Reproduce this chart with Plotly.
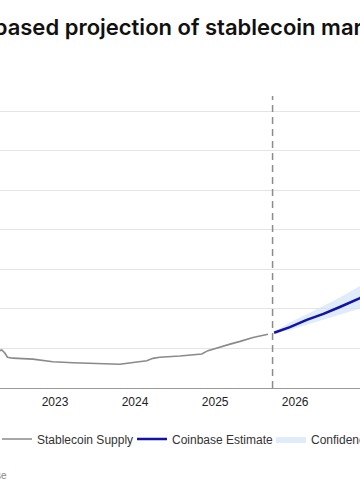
import plotly.graph_objects as go

# ---- data (values in $B) ----
supply_dates = ["2022-04-01", "2022-04-25", "2022-05-03", "2022-05-17", "2022-05-29", "2022-06-22",
                "2022-09-22", "2022-12-22", "2023-03-24", "2023-07-25", "2023-10-24", "2024-01-10",
                "2024-02-24", "2024-03-23", "2024-04-23", "2024-07-24", "2024-11-01", "2024-11-29",
                "2025-01-23", "2025-03-10", "2025-04-25", "2025-06-23", "2025-08-30"]
supply_values = [190, 189, 193, 177, 156, 151,
                 146, 133, 128, 122, 120, 132,
                 138, 150, 156, 162, 172, 189,
                 209, 222, 236, 256, 272]

est_dates = ["2025-09-27", "2025-12-08", "2026-02-23", "2026-05-10", "2026-07-24", "2026-10-24", "2026-12-01"]
est_values = [280, 308, 345, 375, 410, 455, 480]
ci_lower = [277, 294, 320, 345, 368, 402, 420]
ci_upper = [283, 333, 373, 415, 458, 516, 548]

year_ticks = ["2023-01-01", "2024-01-01", "2025-01-01", "2026-01-01", "2027-01-01", "2028-01-01"]
year_labels = ["2023", "2024", "2025", "2026", "2027", "2028"]
y_ticks = [0, 200, 400, 600, 800, 1000, 1200, 1400]

projection_start = "2025-09-20"
title_text = "Coinbase's model-based projection of stablecoin market cap"
source_text = "Source: Coinbase"

W, H = 360, 484
ML, MR, MT, MB = 0, 0, 96, 96
plot_h = H - MT - MB

def px_x(p):
    return p / (W - ML - MR)

def px_y(p):
    return (H - MB - p) / plot_h

fig = go.Figure()

fig.add_trace(go.Scatter(
    x=supply_dates, y=supply_values, mode="lines", name="Stablecoin Supply",
    line=dict(color="#8a8a8a", width=1.6), legend="legend", showlegend=True))

fig.add_trace(go.Scatter(
    x=est_dates, y=ci_lower, mode="lines", line=dict(width=0, color="rgba(0,0,0,0)"),
    showlegend=False, hoverinfo="skip", legend="legend3"))
fig.add_trace(go.Scatter(
    x=est_dates, y=ci_upper, mode="lines", line=dict(width=0, color="rgba(0,0,0,0)"),
    fill="tonexty", fillcolor="rgba(214,229,247,0.75)", name="Confidence Interval",
    legend="legend3", showlegend=True))

fig.add_trace(go.Scatter(
    x=est_dates, y=est_values, mode="lines", name="Coinbase Estimate",
    line=dict(color="#1212a8", width=2.6), legend="legend2", showlegend=True))

fig.add_shape(type="line", xref="x", yref="paper", x0=projection_start, x1=projection_start,
              y0=0, y1=1, line=dict(color="#8c8c8c", width=1.5, dash="7px,5px"))

legend_common = dict(orientation="h", yanchor="middle", y=px_y(439), xanchor="left",
                     bgcolor="rgba(0,0,0,0)", borderwidth=0, visible=True,
                     font=dict(family="Liberation Sans, Arial, sans-serif", size=12, color="#333333"))

fig.update_layout(
    width=W, height=H, showlegend=True,
    margin=dict(l=ML, r=MR, t=MT, b=MB, autoexpand=False),
    plot_bgcolor="white", paper_bgcolor="white",
    font=dict(family="Liberation Sans, Arial, sans-serif", size=12, color="#333333"),
    legend=dict(x=px_x(-3), **legend_common),
    legend2=dict(x=px_x(132), **legend_common),
    legend3=dict(x=px_x(271), **legend_common),
    xaxis=dict(range=["2022-04-25", "2026-10-24"], tickvals=year_ticks, ticktext=year_labels,
               showgrid=False, showline=True, linecolor="#999999", linewidth=1,
               ticks="", ticklabelstandoff=3, tickfont=dict(size=12, color="#222222"),
               automargin=False),
    yaxis=dict(range=[0, 1478], tickvals=y_ticks, showticklabels=False, showgrid=True,
               gridcolor="#e4e4e4", gridwidth=1, zeroline=False, showline=False,
               automargin=False),
    annotations=[
        dict(text=title_text, xref="paper", yref="paper", x=px_x(-209), y=px_y(27),
             xanchor="left", yanchor="middle", showarrow=False,
             font=dict(family="Inter, sans-serif", size=22, color="#111111", weight=600)),
        dict(text=source_text, xref="paper", yref="paper", x=px_x(8.5), y=px_y(475),
             xanchor="right", yanchor="middle", showarrow=False,
             font=dict(family="Liberation Sans, Arial, sans-serif", size=10, color="#888888")),
    ],
)

fig.write_html("out.html", config={"displayModeBar": False},
               post_script="document.body.style.margin='0';document.body.style.overflow='hidden';")
